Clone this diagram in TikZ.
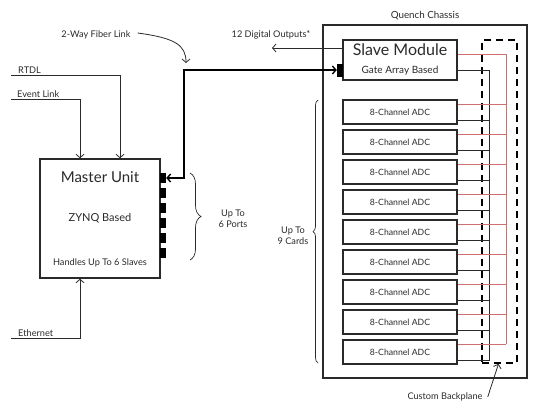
\documentclass[tikz,border=0pt]{standalone}
\usepackage{fontspec}
\setmainfont{Lato}
\usetikzlibrary{positioning, calc, arrows.meta, decorations.pathreplacing}
\definecolor{busred}{HTML}{CF7070}
\definecolor{ink}{HTML}{2A2A2A}

\begin{document}
\begin{tikzpicture}[x=1pt, y=-1pt, text=ink,
    box/.style={rectangle, draw=ink, line width=1.5pt, inner sep=0pt},
    adcbox/.style={box, minimum width=114pt, minimum height=24pt, font=\fontsize{8.7}{10}\selectfont},
    port/.style={rectangle, fill=black, inner sep=0pt, minimum width=6pt, minimum height=10pt},
    wire/.style={line width=0.8pt, draw=ink, -{Straight Barb[length=3.5pt,width=8pt]}},
    fiber/.style={line width=1.4pt, draw=black, {Straight Barb[length=3.5pt,width=8pt]}-{Straight Barb[length=3.5pt,width=8pt]}},
    redbus/.style={line width=0.8pt, draw=busred},
    blkbus/.style={line width=0.8pt, draw=ink},
    lbl/.style={font=\fontsize{9.2}{11}\selectfont, inner sep=1pt},
    brc/.style={draw=ink, line width=0.7pt, decorate}]
  \useasboundingbox (0,0) rectangle (556,405);

  % master unit
  \node[box, minimum width=120pt, minimum height=119pt] (master) at (100,218.5) {};
  \node[font=\fontsize{15}{17}\selectfont] (mtitle) at ([yshift=-19pt]master.north) {Master Unit};
  \node[font=\fontsize{11}{13}\selectfont] (mzynq) at (master.center) {ZYNQ Based};
  \node[font=\fontsize{9.2}{11}\selectfont] (mslaves) at ([yshift=16pt]master.south) {Handles Up To 6 Slaves};
  \foreach \i in {1,...,6}
    \node[port] (p\i) at (163, {178+15*(\i-1)}) {};

  % inputs
  \coordinate (rtdlin) at (11,75);
  \coordinate (evin) at (11,99);
  \coordinate (ethin) at (11,338);
  \node[lbl, anchor=south west] (rtdl) at (17,75) {RTDL};
  \node[lbl, anchor=south west] (evlink) at (16,99) {Event Link};
  \node[lbl, anchor=south west] (eth) at (17,338) {Ethernet};
  \draw[wire] (rtdlin) -| ([xshift=20pt]master.north);
  \draw[wire] (evin) -| ([xshift=-20pt]master.north);
  \draw[wire] (ethin) -| ([xshift=-20pt]master.south);

  % ports brace
  \draw[brc, decoration={brace, amplitude=11pt}] (190,173) -- (190,260);
  \node[lbl, align=center] (ports) at (233,219) {Up To\\6 Ports};

  % chassis
  \node[box, minimum width=204pt, minimum height=353pt] (chassis) at (425,201.5) {};
  \node[lbl, font=\fontsize{9.8}{11}\selectfont, above=3pt of chassis] (chlbl) {Quench Chassis};
  \node[draw=black, line width=1.6pt, dash pattern=on 7pt off 5pt, rectangle, inner sep=0pt,
        minimum width=35pt, minimum height=323pt] (bplane) at (499.5,201.5) {};

  % slave module
  \node[box, minimum width=114pt, minimum height=40pt] (slave) at (400,60) {};
  \node[font=\fontsize{16}{18}\selectfont] (stitle) at ([yshift=-10pt]slave.north) {Slave Module};
  \node[font=\fontsize{10}{12}\selectfont] (sgate) at ([yshift=10pt]slave.south) {Gate Array Based};
  \node[port, minimum height=13pt] (sp) at (340,70) {};

  % adc cards
  \foreach \i in {1,...,9}
    \node[adcbox] (adc\i) at (400, {112+30*(\i-1)}) {8-Channel ADC};
  \draw[brc, decoration={brace, amplitude=5pt}] (318,363) -- (318,100);
  \node[lbl, align=center] (cards) at (293,236) {Up To\\9 Cards};

  % backplane buses
  \coordinate (rbus) at (506,0);
  \coordinate (bbus) at (489,0);
  \draw[redbus] ([yshift=-15pt]slave.north east) -- ([yshift=-15pt]slave.north east -| rbus)
    -- ([yshift=-5pt]adc9.north east -| rbus);
  \draw[blkbus] ([yshift=10pt]slave.south east) -- ([yshift=10pt]slave.south east -| bbus)
    -- ([yshift=4pt]adc9.south east -| bbus);
  \foreach \i in {1,...,9} {
    \draw[redbus] ([yshift=-5pt]adc\i.north east) -- ([yshift=-5pt]adc\i.north east -| rbus);
    \draw[blkbus] ([yshift=4pt]adc\i.south east) -- ([yshift=4pt]adc\i.south east -| bbus);
  }

  % links
  \coordinate (fibturn) at (184,70);
  \draw[fiber] (p1.east) -| (fibturn) -- (sp.west);
  \coordinate (dout) at (272,48);
  \draw[wire] ([yshift=12pt]slave.west) -- (dout);
  \node[lbl] (doutlbl) at (271,35) {12 Digital Outputs*};
  \node[lbl] (fiblbl) at (96,35) {2-Way Fiber Link};
  \coordinate (fibtip) at (186,63);
  \draw[wire] ([xshift=6pt,yshift=2pt]fiblbl.east) .. controls (175,38) and (186,45) .. (fibtip);
  \node[lbl] (bplbl) at (445,397) {Custom Backplane};
  \draw[wire] ([xshift=4pt]bplbl.east) -- ([xshift=-1pt]bplane.south);
\end{tikzpicture}
\end{document}
